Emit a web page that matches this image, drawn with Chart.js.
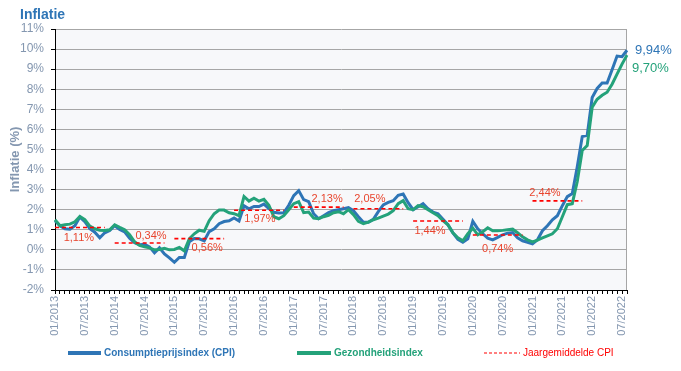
<!DOCTYPE html>
<html>
<head>
<meta charset="utf-8">
<script src="https://cdn.jsdelivr.net/npm/chart.js@4"></script>
<style>
  html, body { margin: 0; padding: 0; background: #fff; }
</style>
</head>
<body>
<canvas id="myChart" width="681" height="371"></canvas>
<script>
// maandelijkse inflatie 01/2013 - 08/2022
const startYear = 2013;
const monthCount = 116;

const cpi = [
   1.45, 1.20, 1.05, 1.03, 1.20, 1.63, 1.40, 1.05, 0.88, 0.60, 0.85, 0.96,
   1.20, 1.02, 0.90, 0.58, 0.35, 0.25, 0.28, 0.15, -0.15, 0.10, -0.20, -0.40,
   -0.62, -0.38, -0.38, 0.40, 0.56, 0.55, 0.45, 0.91, 1.05, 1.30, 1.41, 1.45,
   1.59, 1.44, 2.19, 2.04, 2.16, 2.16, 2.28, 2.06, 1.87, 1.83, 1.84, 2.22,
   2.70, 2.95, 2.50, 2.40, 1.80, 1.55, 1.70, 1.85, 1.95, 2.00, 2.05, 2.10,
   1.95, 1.65, 1.38, 1.37, 1.52, 1.90, 2.24, 2.36, 2.45, 2.72, 2.78, 2.35,
   2.00, 2.15, 2.30, 2.05, 1.88, 1.80, 1.52, 1.25, 0.85, 0.52, 0.38, 0.55,
   1.42, 1.05, 0.80, 0.58, 0.50, 0.62, 0.75, 0.83, 0.86, 0.60, 0.45, 0.38,
   0.30, 0.50, 0.95, 1.20, 1.50, 1.70, 2.20, 2.65, 2.80, 4.14, 5.64, 5.71,
   7.59, 8.04, 8.31, 8.31, 8.97, 9.65, 9.62, 9.94,
];

const gezondheid = [
   1.50, 1.20, 1.25, 1.28, 1.40, 1.66, 1.50, 1.18, 1.05, 0.98, 0.96, 1.00,
   1.25, 1.12, 1.00, 0.75, 0.40, 0.22, 0.15, 0.10, 0.00, 0.02, 0.08, 0.00,
   0.02, 0.12, -0.05, 0.55, 0.80, 0.98, 0.92, 1.45, 1.80, 1.98, 1.98, 1.85,
   1.80, 1.70, 2.66, 2.43, 2.57, 2.43, 2.52, 2.22, 1.65, 1.55, 1.70, 2.00,
   2.30, 2.40, 1.85, 1.88, 1.58, 1.55, 1.65, 1.72, 1.85, 1.90, 1.80, 2.00,
   1.75, 1.42, 1.30, 1.38, 1.50, 1.58, 1.68, 1.78, 1.95, 2.30, 2.45, 2.05,
   2.00, 2.20, 2.15, 2.00, 1.85, 1.70, 1.45, 1.25, 0.85, 0.60, 0.45, 0.80,
   1.08, 0.75, 0.90, 1.10, 0.95, 0.95, 0.97, 1.00, 1.03, 0.85, 0.65, 0.50,
   0.40, 0.48, 0.60, 0.70, 0.80, 1.05, 1.65, 2.25, 2.30, 3.40, 4.95, 5.20,
   7.10, 7.50, 7.70, 7.85, 8.25, 8.75, 9.25, 9.70,
];

// jaargemiddelde CPI 2013 - 2021
const jaarGemiddelde = [1.11, 0.34, 0.56, 1.97, 2.13, 2.05, 1.44, 0.74, 2.44];

// plaats van de labels bij het jaargemiddelde (maanden vanaf januari, px boven/onder)
const gemLabelDx = [4.8, 7.3, 6.6, 5.2, 6.7, 3.3, 3.4, 5.0, 2.5];
const gemLabelDy = [10, -7, 9, 9, -8, -10, 10, 14, -8];

const labels = [];
for (let i = 0; i < monthCount; i++) {
   const m = (i % 12) + 1;
   const y = startYear + Math.floor(i / 12);
   labels.push((m < 10 ? '0' + m : '' + m) + '/' + y);
}

const gemLijn = new Array(monthCount).fill(null);
jaarGemiddelde.forEach((v, k) => {
   for (let j = 0; j <= 10; j++) gemLijn[k * 12 + j] = v;
});

const blauw = '#2E75B6';
const groen = '#24A27A';
const rood = '#FF0000';
const grijs = '#8497B0';
const font = '"Liberation Sans", Arial, sans-serif';

const extra = {
   id: 'extra',
   beforeDraw(chart) {
      const { ctx, chartArea: a } = chart;
      ctx.save();
      ctx.fillStyle = '#F7F8FA';
      ctx.fillRect(a.left, a.top, a.right - a.left, a.bottom - a.top);
      ctx.restore();
   },
   beforeDatasetsDraw(chart) {
      const { ctx, chartArea: a } = chart;
      ctx.save();
      ctx.strokeStyle = '#A6A6A6';
      ctx.lineWidth = 1;
      ctx.beginPath();
      ctx.moveTo(a.right - 0.5, a.top);
      ctx.lineTo(a.right - 0.5, a.bottom);
      ctx.stroke();
      ctx.restore();
   },
   afterDraw(chart) {
      const { ctx } = chart;
      const xs = chart.scales.x;
      const ys = chart.scales.y;
      ctx.save();

      // titel
      ctx.fillStyle = blauw;
      ctx.font = 'bold 14px ' + font;
      ctx.textBaseline = 'middle';
      ctx.textAlign = 'left';
      ctx.fillText('Inflatie', 20, 15);

      // labels jaargemiddelde
      ctx.font = '11px ' + font;
      ctx.fillStyle = '#E8452E';
      ctx.textAlign = 'center';
      jaarGemiddelde.forEach((v, k) => {
         const x0 = xs.getPixelForValue(k * 12);
         const x1 = xs.getPixelForValue(k * 12 + 1);
         const x = x0 + (x1 - x0) * gemLabelDx[k];
         const y = ys.getPixelForValue(v) + gemLabelDy[k];
         ctx.fillText(v.toFixed(2).replace('.', ',') + '%', x, y);
      });

      // eindwaarden
      ctx.font = '13px ' + font;
      ctx.textAlign = 'left';
      const last = monthCount - 1;
      const xe = xs.getPixelForValue(last);
      ctx.fillStyle = blauw;
      ctx.fillText(cpi[last].toFixed(2).replace('.', ',') + '%', xe + 8, ys.getPixelForValue(cpi[last]));
      ctx.fillStyle = groen;
      ctx.fillText(gezondheid[last].toFixed(2).replace('.', ',') + '%', xe + 5, ys.getPixelForValue(gezondheid[last]) + 13);

      // legende
      const ly = 353;
      const items = [
         { ds: chart.data.datasets[0], x0: 68, x1: 101, bold: true },
         { ds: chart.data.datasets[1], x0: 297, x1: 331, bold: true },
         { ds: chart.data.datasets[2], x0: 484, x1: 520, bold: false },
      ];
      items.forEach(it => {
         ctx.strokeStyle = it.ds.borderColor;
         ctx.lineWidth = it.bold ? 4 : 1.2;
         ctx.setLineDash(it.bold ? [] : [3, 2]);
         ctx.beginPath();
         ctx.moveTo(it.x0, ly);
         ctx.lineTo(it.x1, ly);
         ctx.stroke();
         ctx.setLineDash([]);
         ctx.fillStyle = it.ds.borderColor;
         ctx.font = (it.bold ? 'bold ' : '') + '10px ' + font;
         ctx.textAlign = 'left';
         ctx.fillText(it.ds.label, it.x1 + 3, ly);
      });
      ctx.restore();
   },
};

const data = {
   labels: labels,
   datasets: [
      {
         label: 'Consumptieprijsindex (CPI)',
         data: cpi,
         borderColor: blauw,
         borderWidth: 3,
         pointRadius: 0,
         tension: 0,
         order: 2,
      },
      {
         label: 'Gezondheidsindex',
         data: gezondheid,
         borderColor: groen,
         borderWidth: 3,
         pointRadius: 0,
         tension: 0,
         order: 1,
      },
      {
         label: 'Jaargemiddelde CPI',
         data: gemLijn,
         borderColor: rood,
         borderWidth: 1.6,
         borderDash: [4, 3],
         pointRadius: 0,
         spanGaps: false,
         order: 0,
      },
   ],
};

const config = {
   type: 'line',
   data: data,
   options: {
      responsive: false,
      animation: false,
      layout: { padding: { top: 29, right: 54, bottom: 31, left: 0 } },
      plugins: {
         legend: { display: false },
         tooltip: { enabled: false },
      },
      scales: {
         x: {
            offset: false,
            grid: { drawOnChartArea: false, tickLength: 4, tickColor: '#000' },
            border: { color: '#000' },
            ticks: {
               autoSkip: false,
               minRotation: 90,
               maxRotation: 90,
               padding: 2,
               color: grijs,
               font: { size: 11, family: font },
               callback: (v, i) => (i % 6 === 0 ? labels[i] : ''),
            },
            afterFit: s => { s.height = 50; },
         },
         y: {
            min: -2,
            max: 11,
            grid: { color: '#A6A6A6', tickLength: 4, tickColor: '#000' },
            border: { color: '#000' },
            ticks: {
               stepSize: 1,
               padding: 7,
               color: grijs,
               font: { size: 12, family: font },
               callback: v => v + '%',
            },
            title: {
               display: true,
               text: 'Inflatie (%)',
               color: grijs,
               font: { size: 13, weight: 'bold', family: font },
               padding: { top: 8, bottom: 0 },
            },
            afterFit: s => { s.width = 55; },
         },
      },
   },
   plugins: [extra],
};
const myChart = new Chart(document.getElementById('myChart'), config);
</script>
</body>
</html>
